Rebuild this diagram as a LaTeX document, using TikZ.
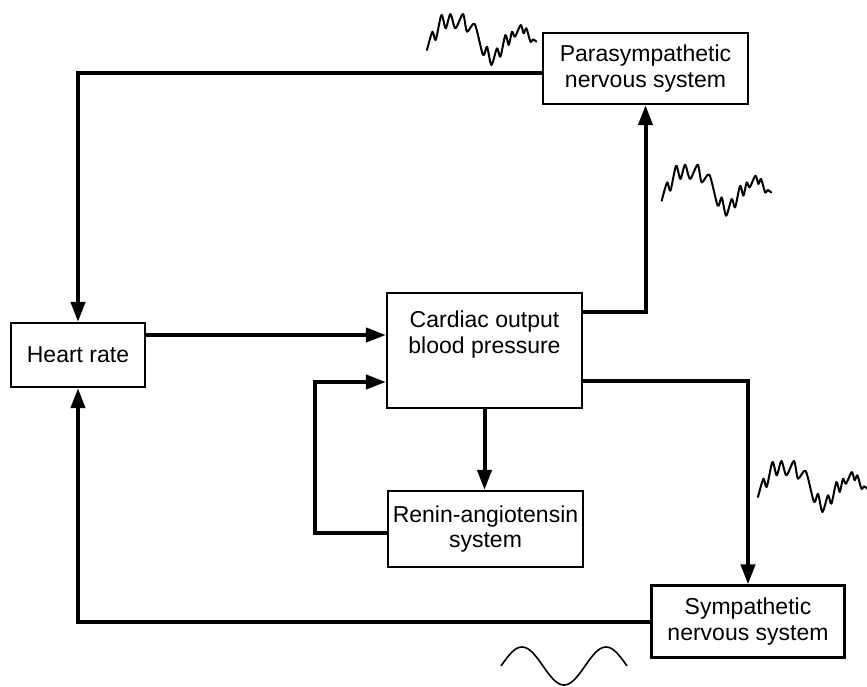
\documentclass[tikz,border=0pt]{standalone}
\usepackage{fontspec}
\setmainfont{Liberation Sans}
\usetikzlibrary{arrows.meta}

\begin{document}
\begin{tikzpicture}[x=1pt,y=-1pt,
  box/.style={draw, line width=2.2pt, align=center, inner sep=0pt,
    font=\fontsize{23}{25.5}\selectfont},
  plain/.style={align=center, inner sep=0pt, font=\fontsize{23}{25.5}\selectfont},
  link/.style={line width=4pt},
  arr/.style={link, -{Triangle[length=20pt,width=14pt]}},
  trace/.style={line width=2pt, line join=round, line cap=round},
  pics/noisy/.style={code={
    \draw[trace] plot[smooth, tension=0.45] coordinates {
      (0,0) (5.4,-18.3) (8.7,-10) (14.4,-35) (18.7,-21.7) (23.4,-36)
      (28.4,-21.7) (36,-36) (40,-18.3) (47.7,-26) (56,5) (60,-3.3)
      (64.4,15) (70,-1.7) (73.4,6.7) (78.4,-15) (81.7,-5) (85,-18.3)
      (88,-13.3) (93.7,-25) (96.7,-16.7) (99.4,-21.7) (103.4,-8.3)
      (106,-10.7) (109.4,-8.3)};
  }}
]
\useasboundingbox (0,0) rectangle (867,686);

% boxes
\node[box, minimum width=205pt, minimum height=71pt] (para) at (645.5,68.5)
  {Parasympathetic\\nervous system};
\node[box, minimum width=134pt, minimum height=64pt] (heart) at (78,355)
  {Heart rate};
\node[box, minimum width=195pt, minimum height=115pt] (cardiac) at (484.5,350.5) {};
\node[plain] (cardiactext) at (484.5,334.5) {Cardiac output\\blood pressure};
\node[box, minimum width=193pt, minimum height=72pt] (symp) at (748,621.5)
  {Sympathetic\\nervous system};
\node[box, minimum width=195pt, minimum height=76pt] (renin) at (485.5,529)
  {Renin-angiotensin\\system};

% feedback paths
\draw[arr] ([yshift=-4pt]para.west) -| (heart.north);
\draw[arr] ([yshift=20pt]heart.east) -- ([yshift=20pt]heart.east -| cardiac.west);
\draw[arr] ([yshift=39pt]cardiac.east) -| (para.south);
\draw[arr] ([yshift=-30pt]cardiac.east) -| (symp.north);
\draw[arr] (cardiac.south) -- (cardiac.south |- renin.north);
\coordinate (rturn) at (315,382);
\draw[arr] ([yshift=-4pt]renin.west) -| (rturn) -- (rturn -| cardiac.west);
\draw[arr] (symp.west) -| (heart.south);

% nerve activity traces
\pic at (427,50) {noisy};
\pic at (661.7,200.7) {noisy};
\pic at (758,497) {noisy};
\draw[line width=1.6pt] plot[domain=0:540, samples=90]
  ({501+0.23333*\x}, {666-19*sin(\x)});
\end{tikzpicture}
\end{document}
